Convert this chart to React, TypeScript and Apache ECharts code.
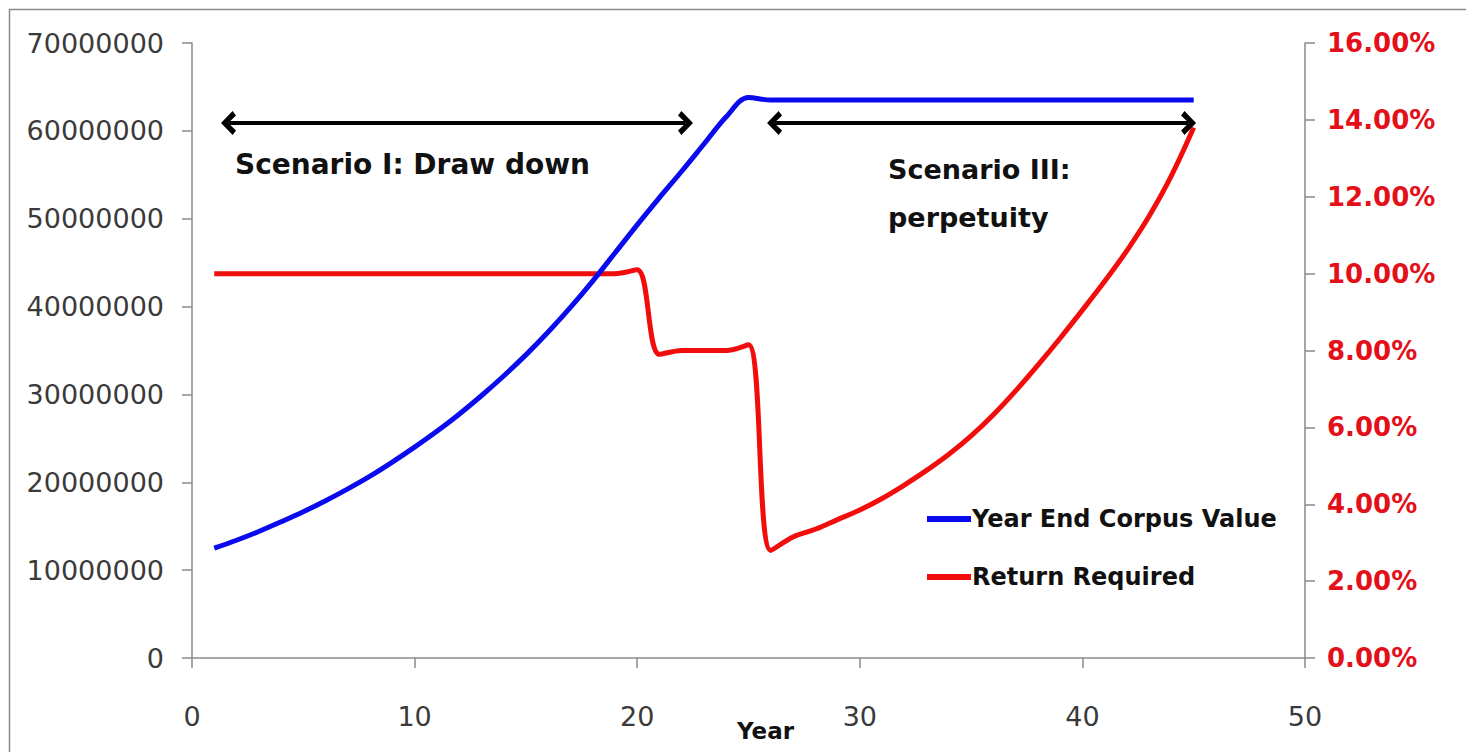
import React, { useEffect, useRef } from "react";
import * as echarts from "echarts";

// Year-by-year corpus projection (in rupees) and the return it requires (in %).
const years = [
  1, 2, 3, 4, 5, 6, 7, 8, 9, 10, 11, 12, 13, 14, 15, 16, 17, 18, 19, 20, 21, 22, 23,
  24, 25, 26, 27, 28, 29, 30, 31, 32, 33, 34, 35, 36, 37, 38, 39, 40, 41, 42, 43, 44, 45,
];

const corpusValue = [
  12500000, 13400000, 14400000, 15500000, 16650000, 17900000, 19250000, 20700000,
  22300000, 24000000, 25800000, 27750000, 29850000, 32100000, 34500000, 37100000,
  39900000, 42900000, 46100000, 49300000, 52400000, 55400000, 58500000, 61600000,
  63800000, 63500000, 63500000, 63500000, 63500000, 63500000, 63500000, 63500000,
  63500000, 63500000, 63500000, 63500000, 63500000, 63500000, 63500000, 63500000,
  63500000, 63500000, 63500000, 63500000, 63500000,
];

const returnRequired = [
  10.0, 10.0, 10.0, 10.0, 10.0, 10.0, 10.0, 10.0, 10.0, 10.0, 10.0, 10.0, 10.0, 10.0,
  10.0, 10.0, 10.0, 10.0, 10.0, 10.1, 7.9, 8.0, 8.0, 8.0, 8.15, 2.8, 3.15, 3.35, 3.6,
  3.85, 4.15, 4.5, 4.88, 5.3, 5.78, 6.33, 6.95, 7.62, 8.32, 9.05, 9.8, 10.6, 11.5, 12.55,
  13.8,
];

// Axis ranges and ticks
const xTicks = { min: 0, max: 50, interval: 10 };
const leftTicks = { min: 0, max: 70000000, interval: 10000000 };
const rightTicks = { min: 0, max: 16, interval: 2 };

// Scenario spans marked with double-headed arrows (year range, corpus level)
const drawDownSpan = [1.64, 22.17];
const perpetuitySpan = [26.17, 44.77];
const arrowLevel = 60900000;

const FONT = "DejaVu Sans";
const CHEVRON = "path://M0,12 L12,0 L24,12 L19.5,15.5 L12,7.5 L4.5,15.5 Z";

export default function App() {
  const ref = useRef<HTMLDivElement>(null);

  useEffect(() => {
    if (!ref.current) return;
    const chart = echarts.init(ref.current, null, { renderer: "svg" });

    const axisLine = { show: true, lineStyle: { color: "#8a8a8a", width: 1.5 } };
    const axisTick = { show: true, length: 10, lineStyle: { color: "#8a8a8a", width: 1.5 } };

    const arrowLine = (span: number[]) => [
      { coord: [span[0], arrowLevel] },
      { coord: [span[1], arrowLevel] },
    ];

    chart.setOption({
      animation: false,
      backgroundColor: "#ffffff",
      grid: {
        left: 192,
        right: 161,
        top: 43,
        bottom: 94,
        containLabel: false,
        outerBoundsMode: "none",
      },
      xAxis: {
        type: "value",
        min: xTicks.min,
        max: xTicks.max,
        interval: xTicks.interval,
        name: "Year",
        nameLocation: "middle",
        nameGap: 61,
        nameMoveOverlap: false,
        nameTextStyle: {
          fontFamily: FONT,
          fontWeight: "bold",
          fontSize: 23,
          color: "#111111",
          padding: [0, 0, 0, 34],
        },
        axisLine,
        axisTick,
        splitLine: { show: false },
        axisLabel: { fontFamily: FONT, fontSize: 27, color: "#3a3a3a", margin: 45 },
      },
      yAxis: [
        {
          type: "value",
          position: "left",
          min: leftTicks.min,
          max: leftTicks.max,
          interval: leftTicks.interval,
          axisLine,
          axisTick,
          splitLine: { show: false },
          axisLabel: {
            fontFamily: FONT,
            fontSize: 27,
            color: "#3a3a3a",
            margin: 28,
            formatter: (v: number) => String(v),
          },
        },
        {
          type: "value",
          position: "right",
          min: rightTicks.min,
          max: rightTicks.max,
          interval: rightTicks.interval,
          axisLine,
          axisTick,
          splitLine: { show: false },
          axisLabel: {
            fontFamily: FONT,
            fontSize: 26,
            fontWeight: "bold",
            color: "#e3101a",
            margin: 22,
            formatter: (v: number) => `${v.toFixed(2)}%`,
          },
        },
      ],
      legend: {
        orient: "vertical",
        left: 922,
        top: 499,
        itemWidth: 44,
        itemHeight: 6,
        itemGap: 28,
        icon: "rect",
        textStyle: {
          fontFamily: FONT,
          fontSize: 24,
          fontWeight: "bold",
          color: "#111111",
          padding: [0, 0, 0, -4],
          lineHeight: 30,
        },
        data: ["Year End Corpus Value", "Return Required"],
      },
      series: [
        {
          name: "Year End Corpus Value",
          type: "line",
          yAxisIndex: 0,
          smooth: 0.35,
          showSymbol: false,
          color: "#0a0aee",
          lineStyle: { width: 5, color: "#0a0aee" },
          data: years.map((y, i) => [y, corpusValue[i]]),
          markLine: {
            silent: true,
            symbol: [CHEVRON, CHEVRON],
            symbolSize: [24, 15],
            label: { show: false },
            lineStyle: { color: "#000000", width: 4, type: "solid", opacity: 1 },
            emphasis: { disabled: true },
            data: [arrowLine(drawDownSpan), arrowLine(perpetuitySpan)],
          },
          z: 3,
        },
        {
          name: "Return Required",
          type: "line",
          yAxisIndex: 1,
          smooth: 0.35,
          showSymbol: false,
          color: "#f20d0d",
          lineStyle: { width: 5, color: "#f20d0d" },
          data: years.map((y, i) => [y, returnRequired[i]]),
          z: 2,
        },
      ],
      graphic: [
        {
          type: "rect",
          silent: true,
          shape: { x: 9.5, y: 9.5, width: 1480, height: 760 },
          style: { fill: "none", stroke: "#8a8a8a", lineWidth: 1.5 },
        },
        {
          type: "text",
          left: 235,
          top: 150,
          style: {
            text: "Scenario I: Draw down",
            fontFamily: FONT,
            fontWeight: "bold",
            fontSize: 28,
            fill: "#111111",
          },
        },
        {
          type: "text",
          left: 888,
          top: 145,
          style: {
            text: "Scenario III:\nperpetuity",
            fontFamily: FONT,
            fontWeight: "bold",
            fontSize: 27,
            lineHeight: 48,
            fill: "#111111",
          },
        },
      ],
    });

    return () => chart.dispose();
  }, []);

  return (
    <div
      ref={ref}
      style={{ position: "fixed", left: 0, top: 0, width: 1466, height: 752, background: "#fff" }}
    />
  );
}
